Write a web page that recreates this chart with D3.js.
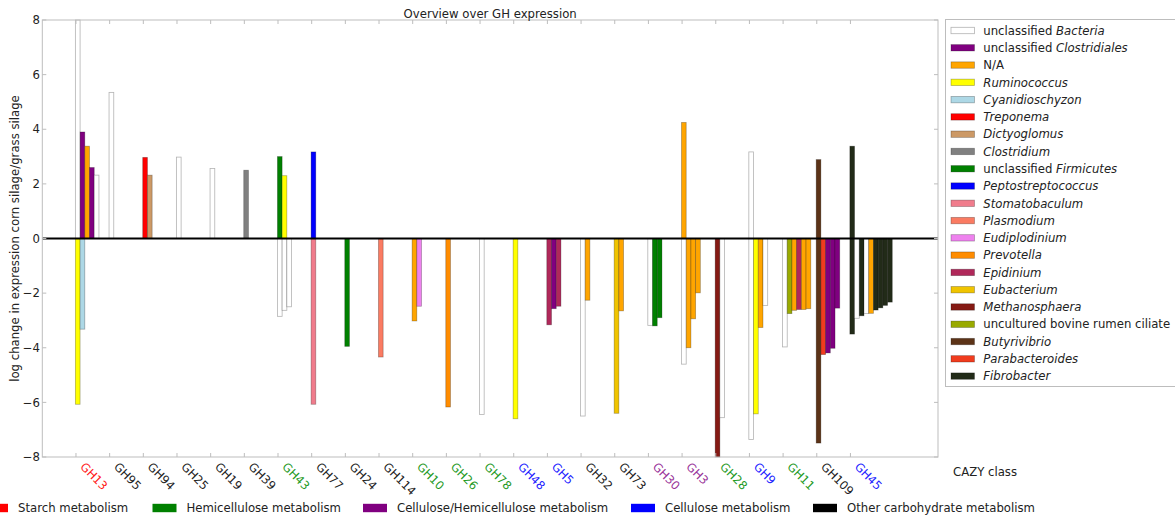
<!DOCTYPE html>
<html>
<head>
<meta charset="utf-8">
<script src="https://cdn.jsdelivr.net/npm/d3@7"></script>
<style>
  html, body { margin: 0; padding: 0; background: #fff; }
  svg { display: block; font-family: "DejaVu Sans", sans-serif; }
</style>
</head>
<body>
<svg id="chart" width="1175" height="520"></svg>
<script>
// CAZY classes along the x axis and the metabolism group each belongs to
const categories = ["GH13","GH95","GH94","GH25","GH19","GH39","GH43","GH77","GH24","GH114",
  "GH10","GH26","GH78","GH48","GH5","GH32","GH73","GH30","GH3","GH28","GH9","GH11","GH109","GH45"];
const categoryGroup = ["starch","other","other","other","other","other","hemi","other","other","other",
  "hemi","hemi","hemi","cell","cell","other","other","cellhemi","cellhemi","hemi","cell","hemi","other","cell"];

// metabolism groups (bottom legend and tick label colours)
const groupKeys = ["starch","hemi","cellhemi","cell","other"];
const groupNames = ["Starch metabolism","Hemicellulose metabolism","Cellulose/Hemicellulose metabolism",
  "Cellulose metabolism","Other carbohydrate metabolism"];
const groupColors = ["#ff0000","#008000","#800080","#0000ff","#000000"];
const groupLabelColors = ["#ff1a1a","#1f9a1f","#993399","#2222ff","#222222"];

// taxa (right legend)
const taxaKeys = ["Bac","Clo","NA","Rum","Cya","Tre","Dic","Cls","Fir","Pep","Sto",
  "Pla","Eud","Pre","Epi","Eub","Met","Ubr","But","Par","Fib"];
const taxaPlain = ["unclassified ","unclassified ","N/A","","","","","","unclassified ","","",
  "","","","","","","uncultured bovine rumen ciliate","","",""];
const taxaItalic = ["Bacteria","Clostridiales","","Ruminococcus","Cyanidioschyzon","Treponema",
  "Dictyoglomus","Clostridium","Firmicutes","Peptostreptococcus","Stomatobaculum","Plasmodium",
  "Eudiplodinium","Prevotella","Epidinium","Eubacterium","Methanosphaera","","Butyrivibrio",
  "Parabacteroides","Fibrobacter"];
const taxaColors = ["#ffffff","#800080","#ffa500","#ffff00","#add8e6","#ff0000","#cc9966","#808080",
  "#008000","#0000ff","#f07c8c","#fa7b62","#ee82ee","#ff8c00","#b0285a","#f0c400","#851a14",
  "#99aa00","#5c3317","#f03c1e","#222b18"];

// up-regulated bars per class (taxon, log change)
const upTaxa = [
  ["Bac","Clo","NA","Clo","Bac"], ["Bac"], ["Tre","Dic"], ["Bac"], ["Bac"], ["Cls"],
  ["Fir","Rum"], ["Pep"], [], [], [], [], [], [], [], [], [], [],
  ["NA"], [], ["Bac"], [], ["But"], ["Fib"]
];
const upValues = [
  [8.0, 3.9, 3.38, 2.6, 2.32], [5.35], [2.97, 2.32], [2.98], [2.56], [2.5],
  [3.0, 2.3], [3.17], [], [], [], [], [], [], [], [], [], [],
  [4.25], [], [3.17], [], [2.89], [3.38]
];

// down-regulated bars per class (taxon, log change)
const downTaxa = [
  ["Rum","Cya"], [], [], [], [], [],
  ["Bac","Bac","Bac"], ["Sto"], ["Fir"], ["Pla"], ["NA","Eud"], ["Pre"], ["Bac"], ["Rum"],
  ["Epi","Clo","Epi"], ["Bac","NA"], ["Eub","NA"], ["Bac","Fir","Fir"],
  ["Bac","NA","NA","NA"], ["Met","Bac"], ["Bac","Rum","NA","Bac"],
  ["Bac","Ubr","NA","Epi","NA","NA"], ["But","Par","Clo","Clo","Clo"],
  ["Fib","Bac","Fib","Bac","NA","Fib","Fib","Fib","Fib"]
];
const downValues = [
  [-6.07, -3.32], [], [], [], [], [],
  [-2.85, -2.63, -2.5], [-6.07], [-3.95], [-4.34], [-3.02, -2.48], [-6.17], [-6.44], [-6.6],
  [-3.16, -2.57, -2.48], [-6.5, -2.26], [-6.4, -2.65], [-3.18, -3.2, -2.9],
  [-4.6, -4.0, -2.94, -1.99], [-8.0, -6.56], [-7.36, -6.42, -3.26, -2.45],
  [-3.97, -2.75, -2.63, -2.6, -2.6, -2.57], [-7.49, -4.25, -4.19, -4.02, -2.55],
  [-3.5, -2.92, -2.83, -2.75, -2.74, -2.62, -2.54, -2.45, -2.33]
];

const yTicks = [8, 6, 4, 2, 0, -2, -4, -6, -8];

// ---- layout ----
const svg = d3.select("#chart");
const plot = { left: 42.3, right: 938, top: 20, bottom: 457 };
const barWidth = 0.14;              // in class units
const fontSize = 11.7;
const frameColor = "#bdbdbd";

const x = d3.scaleLinear().domain([0, 26.6]).range([plot.left, plot.right]);
const y = d3.scaleLinear().domain([-8, 8]).range([plot.bottom, plot.top]);
const taxonColor = d3.scaleOrdinal().domain(taxaKeys).range(taxaColors);
const groupColor = d3.scaleOrdinal().domain(groupKeys).range(groupColors);
const groupLabelColor = d3.scaleOrdinal().domain(groupKeys).range(groupLabelColors);

// plot background and frame
svg.append("rect")
  .attr("x", plot.left).attr("y", plot.top)
  .attr("width", plot.right - plot.left).attr("height", plot.bottom - plot.top)
  .attr("fill", "#fff");

// bars
function barRows(taxa, values) {
  const rows = [];
  categories.forEach((c, i) => {
    values[i].forEach((v, j) => rows.push({ cat: i, slot: j, taxon: taxa[i][j], value: v }));
  });
  return rows;
}
const bars = barRows(upTaxa, upValues).concat(barRows(downTaxa, downValues));
const bw = x(barWidth) - x(0);

svg.append("g").selectAll("rect").data(bars).join("rect")
  .attr("x", d => x(d.cat + 1 + d.slot * barWidth) - 0.6)
  .attr("y", d => y(Math.max(0, d.value)))
  .attr("width", bw)
  .attr("height", d => Math.abs(y(d.value) - y(0)))
  .attr("fill", d => taxonColor(d.taxon))
  .attr("stroke", "rgba(0,0,0,0.3)")
  .attr("stroke-width", 0.8);

// zero line
svg.append("line")
  .attr("x1", plot.left).attr("x2", plot.right)
  .attr("y1", y(0)).attr("y2", y(0))
  .attr("stroke", "#000").attr("stroke-width", 2);

// frame
svg.append("rect")
  .attr("x", plot.left).attr("y", plot.top)
  .attr("width", plot.right - plot.left).attr("height", plot.bottom - plot.top)
  .attr("fill", "none").attr("stroke", frameColor).attr("stroke-width", 1);

// inward ticks on all four sides
const tickLen = 4;
const xTickPos = categories.map((c, i) => i + 1);
const tg = svg.append("g").attr("stroke", frameColor).attr("stroke-width", 1);
xTickPos.forEach(t => {
  tg.append("line").attr("x1", x(t)).attr("x2", x(t)).attr("y1", plot.bottom).attr("y2", plot.bottom - tickLen);
  tg.append("line").attr("x1", x(t)).attr("x2", x(t)).attr("y1", plot.top).attr("y2", plot.top + tickLen);
});
yTicks.forEach(t => {
  tg.append("line").attr("x1", plot.left).attr("x2", plot.left + tickLen).attr("y1", y(t)).attr("y2", y(t));
  tg.append("line").attr("x1", plot.right).attr("x2", plot.right - tickLen).attr("y1", y(t)).attr("y2", y(t));
});

// y tick labels
svg.append("g").selectAll("text").data(yTicks).join("text")
  .attr("x", 40).attr("y", d => y(d)).attr("dy", "0.36em")
  .attr("text-anchor", "end").attr("font-size", fontSize).attr("fill", "#222")
  .text(d => d < 0 ? "\u2212" + Math.abs(d) : d);

// x tick labels, rotated and coloured by metabolism group
svg.append("g").selectAll("text").data(categories).join("text")
  .attr("transform", (d, i) => `translate(${x(i + 1) + 3.5},${plot.bottom + 10.5}) rotate(45)`)
  .attr("font-size", fontSize)
  .attr("fill", (d, i) => groupLabelColor(categoryGroup[i]))
  .text(d => d);

// axis titles
svg.append("text")
  .attr("transform", `translate(18.5,${(plot.top + plot.bottom) / 2}) rotate(-90)`)
  .attr("text-anchor", "middle").attr("font-size", fontSize).attr("fill", "#222")
  .text("log change in expression corn silage/grass silage");

svg.append("text")
  .attr("x", 953).attr("y", 476)
  .attr("font-size", fontSize).attr("fill", "#222")
  .text("CAZY class");

svg.append("text")
  .attr("x", (plot.left + plot.right) / 2).attr("y", 18)
  .attr("text-anchor", "middle").attr("font-size", fontSize).attr("fill", "#222")
  .text("Overview over GH expression");

// taxa legend
const lg = svg.append("g");
lg.append("rect")
  .attr("x", 945.5).attr("y", 19.5).attr("width", 240).attr("height", 367)
  .attr("fill", "#fff").attr("stroke", frameColor);
const rowStep = 17.28;
const rows = lg.selectAll("g.row").data(taxaKeys).join("g")
  .attr("class", "row")
  .attr("transform", (d, i) => `translate(0,${30.5 + i * rowStep})`);
rows.append("rect")
  .attr("x", 951).attr("y", -3.2).attr("width", 23.5).attr("height", 6.4)
  .attr("fill", d => taxonColor(d))
  .attr("stroke", "rgba(0,0,0,0.3)").attr("stroke-width", 0.8);
const rowText = rows.append("text")
  .attr("x", 983.3).attr("dy", "0.36em")
  .attr("font-size", fontSize).attr("fill", "#222");
rowText.append("tspan").text((d, i) => taxaPlain[i]);
rowText.append("tspan").attr("font-style", "italic").text((d, i) => taxaItalic[i]);

// metabolism group legend along the bottom
const groupPatchX = [-16, 152.5, 363, 631, 813];
const bg = svg.append("g").selectAll("g").data(groupKeys).join("g")
  .attr("transform", (d, i) => `translate(${groupPatchX[i]},508)`);
bg.append("rect")
  .attr("x", 0).attr("y", -4.2).attr("width", 24).attr("height", 8.4)
  .attr("fill", d => groupColor(d));
bg.append("text")
  .attr("x", 34).attr("dy", "0.36em")
  .attr("font-size", fontSize).attr("fill", "#222")
  .text((d, i) => groupNames[i]);
</script>
</body>
</html>
